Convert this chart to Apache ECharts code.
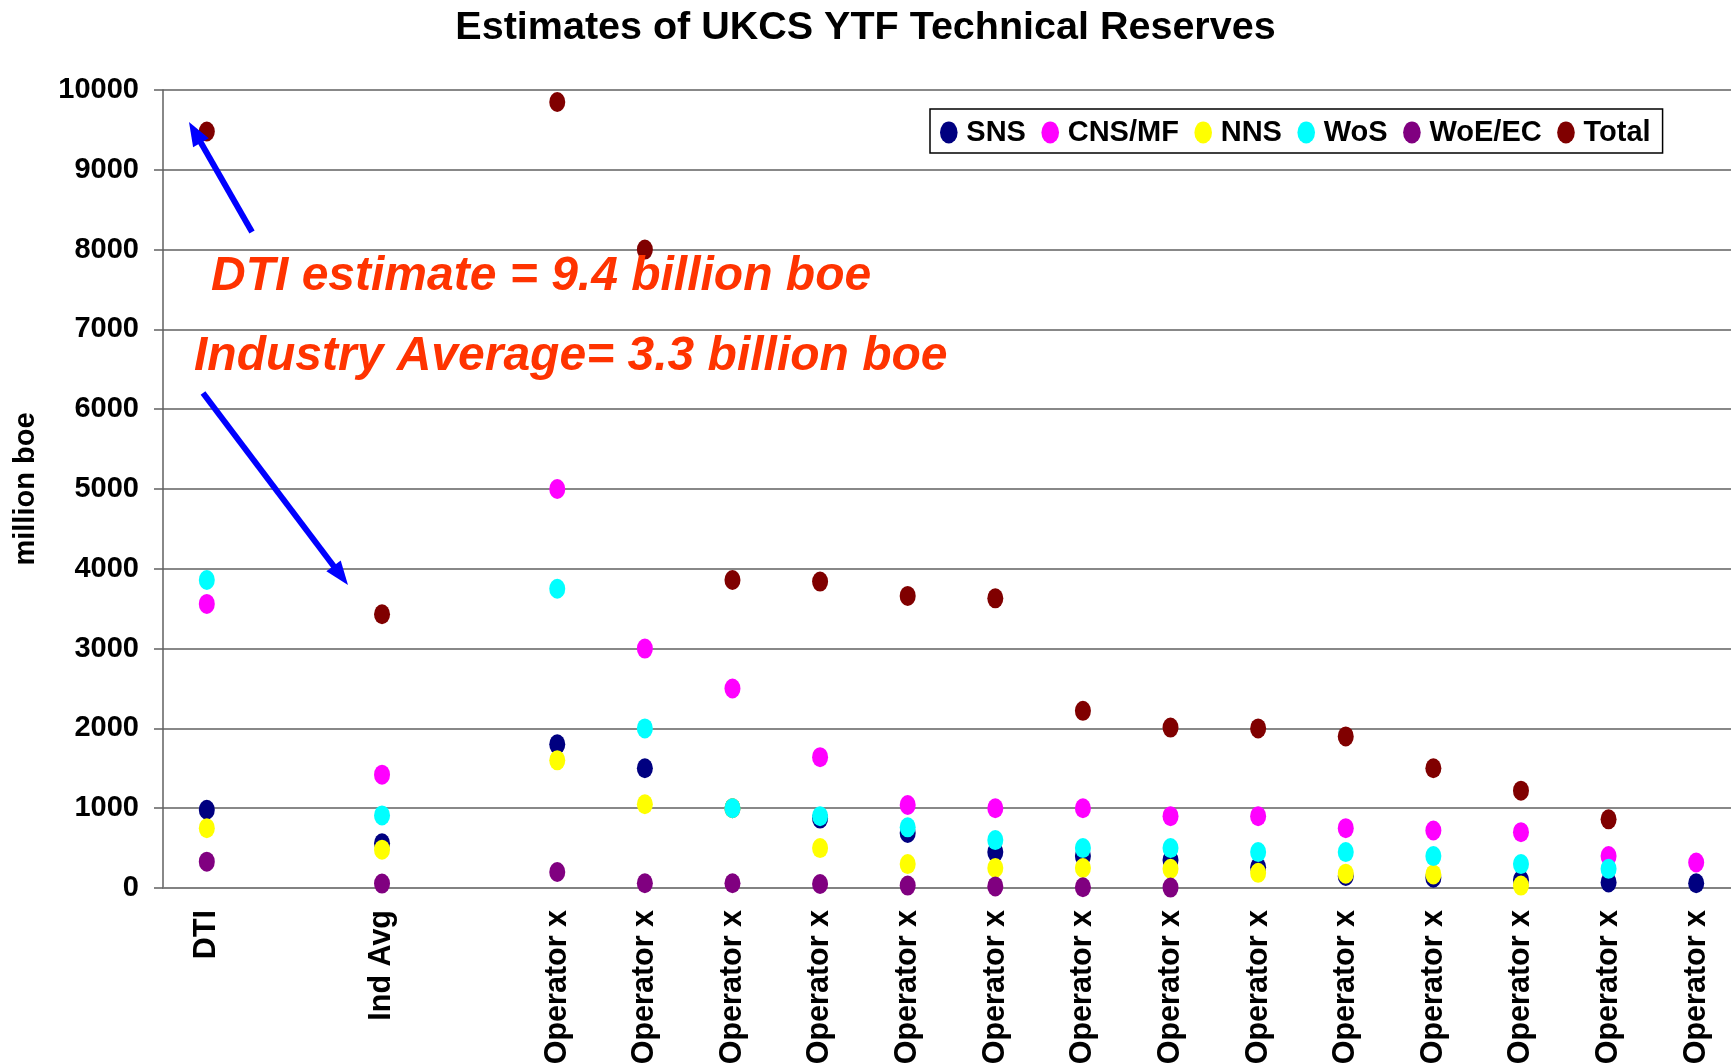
<!DOCTYPE html>
<html>
<head>
<meta charset="utf-8">
<script src="https://cdn.jsdelivr.net/npm/echarts@6/dist/echarts.min.js"></script>
<style>
  html, body { margin: 0; padding: 0; background: #fff; }
  #main { width: 1731px; height: 1064px; }
</style>
</head>
<body>
<div id="main"></div>
<script>
// categories (blank slots are spacer columns between groups)
var categories = ['DTI', '', 'Ind Avg', '',
  'Operator x', 'Operator x', 'Operator x', 'Operator x', 'Operator x', 'Operator x', 'Operator x',
  'Operator x', 'Operator x', 'Operator x', 'Operator x', 'Operator x', 'Operator x', 'Operator x'];

// million boe
var sns   = [980, null, 560, null, 1800, 1500, 1000, 870, 690, 450, 400, 350, 260, 150, 130, 100, 70, 60];
var cns   = [3560, null, 1420, null, 5000, 3000, 2500, 1640, 1040, 1000, 1000, 900, 900, 750, 720, 700, 400, 320];
var nns   = [750, null, 480, null, 1600, 1050, 1000, 500, 300, 250, 250, 240, 190, 180, 170, 30, null, null];
var wos   = [3860, null, 910, null, 3750, 2000, 1000, 900, 760, 600, 500, 500, 450, 450, 400, 300, 240, null];
var woe   = [330, null, 55, null, 200, 60, 60, 50, 30, 20, 10, 5, null, null, null, null, null, null];
var total = [9480, null, 3430, null, 9850, 8000, 3860, 3840, 3660, 3630, 2220, 2010, 2000, 1900, 1500, 1220, 860, null];

var FONT = 'Liberation Sans, Arial, sans-serif';
var DOT = 'path://M8,0 A8,10 0 1,1 8,20 A8,10 0 1,1 8,0 Z';

function dots(name, color, data) {
  return {
    name: name,
    type: 'scatter',
    symbol: DOT,
    symbolSize: [16, 20],
    itemStyle: { color: color, opacity: 1 },
    data: data
  };
}

// blue arrow: line plus filled head
function arrow(x1, y1, x2, y2) {
  var dx = x2 - x1, dy = y2 - y1;
  var len = Math.sqrt(dx * dx + dy * dy);
  var ux = dx / len, uy = dy / len;
  var hl = 24, hw = 9;
  var bx = x2 - ux * hl, by = y2 - uy * hl;
  return [
    {
      type: 'line',
      shape: { x1: x1, y1: y1, x2: bx + ux * 2, y2: by + uy * 2 },
      style: { stroke: '#0000FF', lineWidth: 6 },
      z: 100
    },
    {
      type: 'polygon',
      shape: { points: [[x2, y2], [bx - uy * hw, by + ux * hw], [bx + uy * hw, by - ux * hw]] },
      style: { fill: '#0000FF' },
      z: 100
    }
  ];
}

var chart = echarts.init(document.getElementById('main'));

var option = {
  animation: false,
  backgroundColor: '#fff',
  title: {
    text: 'Estimates of UKCS YTF Technical Reserves',
    left: 'center',
    top: 3,
    textStyle: { fontFamily: FONT, fontSize: 39.5, fontWeight: 'bold', color: '#000' }
  },
  legend: {
    left: 930,
    top: 109,
    padding: [9, 12, 6, 10],
    itemGap: 15.5,
    itemWidth: 19,
    itemHeight: 22,
    icon: DOT,
    borderColor: '#000',
    borderWidth: 1.5,
    backgroundColor: '#fff',
    textStyle: { fontFamily: FONT, fontSize: 29, fontWeight: 'bold', color: '#000', padding: [0, 0, 0, 3] },
    data: ['SNS', 'CNS/MF', 'NNS', 'WoS', 'WoE/EC', 'Total']
  },
  grid: {
    left: 163,
    top: 90,
    width: 1577,
    height: 798,
    outerBoundsMode: 'none'
  },
  xAxis: {
    type: 'category',
    data: categories,
    boundaryGap: true,
    axisLine: { lineStyle: { color: '#808080', width: 1.5 } },
    axisTick: { interval: 0, length: 8, lineStyle: { color: '#606060', width: 1.5 } },
    axisLabel: {
      interval: 0,
      rotate: 90,
      margin: 22,
      fontFamily: FONT,
      fontSize: 30.5,
      fontWeight: 'bold',
      color: '#000'
    },
    splitLine: { show: false }
  },
  yAxis: {
    type: 'value',
    min: 0,
    max: 10000,
    interval: 1000,
    axisLine: { show: true, lineStyle: { color: '#606060', width: 1.5 } },
    axisTick: { show: true, length: 9, lineStyle: { color: '#606060', width: 1.5 } },
    axisLabel: {
      margin: 24,
      fontFamily: FONT,
      fontSize: 29,
      fontWeight: 'bold',
      color: '#000',
      formatter: function (v) { return String(v); }
    },
    splitLine: { lineStyle: { color: '#606060', width: 1.5 } }
  },
  graphic: [
    {
      type: 'text',
      x: 26,
      y: 489,
      rotation: Math.PI / 2,
      style: {
        text: 'million boe',
        fill: '#000',
        font: 'bold 29px ' + FONT,
        align: 'center',
        verticalAlign: 'middle'
      }
    },
    {
      type: 'text',
      x: 211,
      y: 277,
      z: 100,
      style: {
        text: 'DTI estimate = 9.4 billion boe',
        fill: '#FF3300',
        font: 'italic bold 48px ' + FONT,
        align: 'left',
        verticalAlign: 'middle'
      }
    },
    {
      type: 'text',
      x: 194,
      y: 357,
      z: 100,
      style: {
        text: 'Industry Average= 3.3 billion boe',
        fill: '#FF3300',
        font: 'italic bold 48px ' + FONT,
        align: 'left',
        verticalAlign: 'middle'
      }
    }
  ].concat(arrow(252, 232, 189, 122)).concat(arrow(203, 393, 348, 585)),
  series: [
    dots('SNS', '#000080', sns),
    dots('CNS/MF', '#FF00FF', cns),
    dots('NNS', '#FFFF00', nns),
    dots('WoS', '#00FFFF', wos),
    dots('WoE/EC', '#800080', woe),
    dots('Total', '#800000', total)
  ]
};

chart.setOption(option);
</script>
</body>
</html>
